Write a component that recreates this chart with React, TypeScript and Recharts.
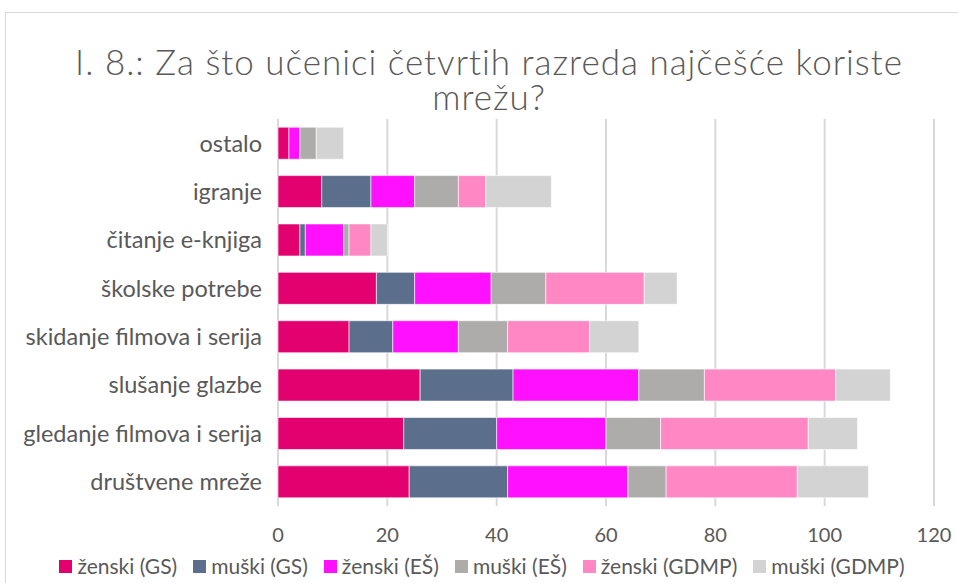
import { BarChart, Bar, XAxis, YAxis, CartesianGrid, Legend } from "recharts";

const categories = [
  "ostalo",
  "igranje",
  "čitanje e-knjiga",
  "školske potrebe",
  "skidanje filmova i serija",
  "slušanje glazbe",
  "gledanje filmova i serija",
  "društvene mreže",
];

const zenskiGS = [2, 8, 4, 18, 13, 26, 23, 24];
const muskiGS = [0, 9, 1, 7, 8, 17, 17, 18];
const zenskiES = [2, 8, 7, 14, 12, 23, 20, 22];
const muskiES = [3, 8, 1, 10, 9, 12, 10, 7];
const zenskiGDMP = [0, 5, 4, 18, 15, 24, 27, 24];
const muskiGDMP = [5, 12, 3, 6, 9, 10, 9, 13];

const xTicks = [0, 20, 40, 60, 80, 100, 120];

const series = [
  { key: "zGS", name: "ženski (GS)", values: zenskiGS, color: "#E3006F" },
  { key: "mGS", name: "muški (GS)", values: muskiGS, color: "#5B6E8C" },
  { key: "zES", name: "ženski (EŠ)", values: zenskiES, color: "#FF10FF" },
  { key: "mES", name: "muški (EŠ)", values: muskiES, color: "#ADACAB" },
  { key: "zGDMP", name: "ženski (GDMP)", values: zenskiGDMP, color: "#FF87C4" },
  { key: "mGDMP", name: "muški (GDMP)", values: muskiGDMP, color: "#D4D3D3" },
];

const data = categories.map((name, i) => {
  const row: Record<string, string | number> = { name };
  series.forEach((s) => (row[s.key] = s.values[i]));
  return row;
});

const font = "Lato, 'Open Sans', sans-serif";

function LegendRow() {
  return (
    <div style={{ display: "flex", justifyContent: "center", gap: 16, fontSize: 21, lineHeight: "24px", color: "#595959", fontFamily: font, paddingLeft: 30 }}>
      {series.map((s) => (
        <span key={s.key} style={{ display: "flex", alignItems: "center", gap: 5 }}>
          <span style={{ width: 13, height: 13, background: s.color, display: "inline-block" }} />
          {s.name}
        </span>
      ))}
    </div>
  );
}

export default function App() {
  return (
    <div style={{ position: "absolute", left: 0, top: 0, width: 958, height: 583, background: "#fff", fontFamily: font, overflow: "hidden" }}>
      <div
        style={{
          position: "absolute",
          left: 5,
          top: 12,
          width: 960,
          height: 580,
          borderLeft: "1px solid #d9d9d9",
          borderTop: "1px solid #d9d9d9",
        }}
      />
      <div
        style={{
          position: "absolute",
          left: 20,
          width: 938,
          top: 44,
          textAlign: "center",
          fontSize: 35,
          fontWeight: 300,
          letterSpacing: 1,
          lineHeight: "35px",
          color: "#595959",
        }}
      >
        I. 8.: Za što učenici četvrtih razreda najčešće koriste
        <br />
        mrežu?
      </div>
      <div style={{ position: "absolute", left: 0, top: 0 }}>
        <BarChart
          width={958}
          height={583}
          data={data}
          layout="vertical"
          margin={{ top: 119, right: 24, left: 0, bottom: 13 }}
          barCategoryGap="17%"
        >
          <CartesianGrid horizontal={false} stroke="#d9d9d9" strokeWidth={2} />
          <XAxis
            type="number"
            domain={[0, 120]}
            ticks={xTicks}
            axisLine={false}
            tickLine={false}
            tickMargin={16}
            height={40}
            tick={{ fill: "#595959", fontSize: 20, fontFamily: font }}
          />
          <YAxis
            type="category"
            dataKey="name"
            width={278}
            axisLine={false}
            tickLine={false}
            tickMargin={10}
            tick={{ fill: "#595959", fontSize: 23.5, fontFamily: font }}
          />
          <Legend verticalAlign="bottom" wrapperStyle={{ bottom: 5 }} content={() => <LegendRow />} />
          {series.map((s) => (
            <Bar
              key={s.key}
              dataKey={s.key}
              name={s.name}
              stackId="a"
              fill={s.color}
              stroke="#ffffff"
              strokeWidth={0.6}
              isAnimationActive={false}
            />
          ))}
        </BarChart>
      </div>
    </div>
  );
}
